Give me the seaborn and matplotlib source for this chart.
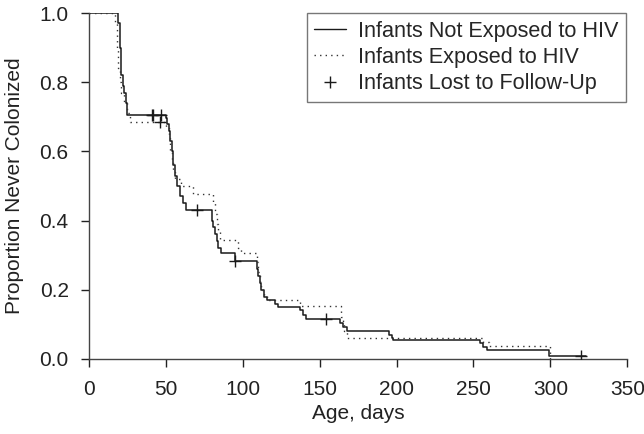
import matplotlib.pyplot as plt
import pandas as pd
import seaborn as sns
from matplotlib.lines import Line2D

# Kaplan-Meier step values
unexp_days = [0, 19, 20, 21, 22, 23, 24, 25, 50, 51, 52, 53, 54, 55, 56, 57, 59, 61, 63,
              80, 81, 82, 83, 84, 86, 95, 109, 110, 111, 112, 114, 116, 121, 123,
              137, 139, 141, 163, 165, 168, 195, 197, 198, 254, 256, 259, 299, 323]
unexp_surv = [1.0, 0.97, 0.90, 0.82, 0.79, 0.77, 0.74, 0.705, 0.696, 0.68, 0.66, 0.63, 0.60,
              0.56, 0.53, 0.50, 0.47, 0.45, 0.43,
              0.40, 0.38, 0.36, 0.34, 0.32, 0.305, 0.283, 0.26, 0.24, 0.22, 0.20, 0.18, 0.17,
              0.16, 0.151, 0.14, 0.128, 0.116, 0.105, 0.093, 0.081, 0.07, 0.06, 0.055,
              0.045, 0.035, 0.026, 0.009, 0.009]

exp_days = [0, 17, 18, 19, 20, 21, 23, 25, 27, 50, 52, 53, 54, 55, 56, 60, 68,
            81, 82, 83, 84, 85, 97, 99, 109, 110, 111, 112, 114, 116, 137,
            164, 165, 166, 168, 256, 260, 300]
exp_surv = [1.0, 0.97, 0.90, 0.84, 0.80, 0.77, 0.74, 0.71, 0.686, 0.67, 0.64, 0.60, 0.57,
            0.54, 0.52, 0.50, 0.477, 0.45, 0.42, 0.39, 0.37, 0.344, 0.32, 0.305, 0.28,
            0.25, 0.22, 0.20, 0.185, 0.17, 0.153, 0.12, 0.10, 0.08, 0.06, 0.048, 0.038, 0.0]

# censored observations (lost to follow-up)
cens_days = [41, 42, 47, 46, 70, 95, 154, 320]
cens_surv = [0.705, 0.705, 0.705, 0.686, 0.43, 0.283, 0.116, 0.009]

sns.set_style('ticks')
plt.rcParams['font.family'] = ['Liberation Sans', 'DejaVu Sans']

fig = plt.figure(figsize=(6.44, 4.34), dpi=100)
ax = fig.add_axes([0.138, 0.173, 0.836, 0.797])

line_col = '#1a1a1a'
unexp = pd.DataFrame({'day': unexp_days, 'surv': unexp_surv})
exp = pd.DataFrame({'day': exp_days, 'surv': exp_surv})
cens = pd.DataFrame({'day': cens_days, 'surv': cens_surv})

sns.lineplot(data=unexp, x='day', y='surv', ax=ax, color=line_col, linewidth=1.1,
             drawstyle='steps-post', estimator=None)
sns.lineplot(data=exp, x='day', y='surv', ax=ax, color='#333333', linewidth=1.0,
             drawstyle='steps-post', estimator=None, dashes=False)
ax.lines[-1].set_dashes([1, 3])
sns.scatterplot(data=cens, x='day', y='surv', ax=ax, marker='+', s=80, color=line_col,
                linewidth=1.0, zorder=3)

fs = 15
ax.set_xlim(0, 350)
ax.set_ylim(0, 1.0)
ax.set_xticks(range(0, 351, 50))
ax.set_yticks([0.0, 0.2, 0.4, 0.6, 0.8, 1.0])
ax.set_yticklabels(['0.0', '0.2', '0.4', '0.6', '0.8', '1.0'])
ax.set_xlabel('Age, days', fontsize=fs, color='#222222', labelpad=4)
ax.set_ylabel('Proportion Never Colonized', fontsize=fs, color='#222222', labelpad=11)
ax.tick_params(labelsize=fs, colors='#222222', length=6, width=1, direction='out')
ax.tick_params(axis='y', pad=8.5)
ax.tick_params(axis='x', pad=9)
for s in ['left', 'bottom']:
    ax.spines[s].set_color('#444444')
    ax.spines[s].set_linewidth(1.0)
sns.despine(ax=ax)
ax.spines['left'].set_bounds(0, 1.0)

handles = [
    Line2D([], [], color=line_col, linewidth=1.0),
    Line2D([], [], color='#333333', linewidth=1.0, dashes=[1, 3]),
    Line2D([], [], color=line_col, linestyle='none', marker='+', markersize=9,
           markeredgewidth=1.0),
]
labels = ['Infants Not Exposed to HIV', 'Infants Exposed to HIV',
          'Infants Lost to Follow-Up']
leg = ax.legend(handles, labels, loc='upper right', bbox_to_anchor=(0.997, 1.0),
                borderaxespad=0.0, fontsize=15.6, frameon=True, fancybox=False,
                handlelength=1.45, handletextpad=0.55, borderpad=0.35, labelspacing=0.25)
leg.get_frame().set_edgecolor('#555555')
leg.get_frame().set_linewidth(1.0)

fig.savefig('out.png', dpi=100)
